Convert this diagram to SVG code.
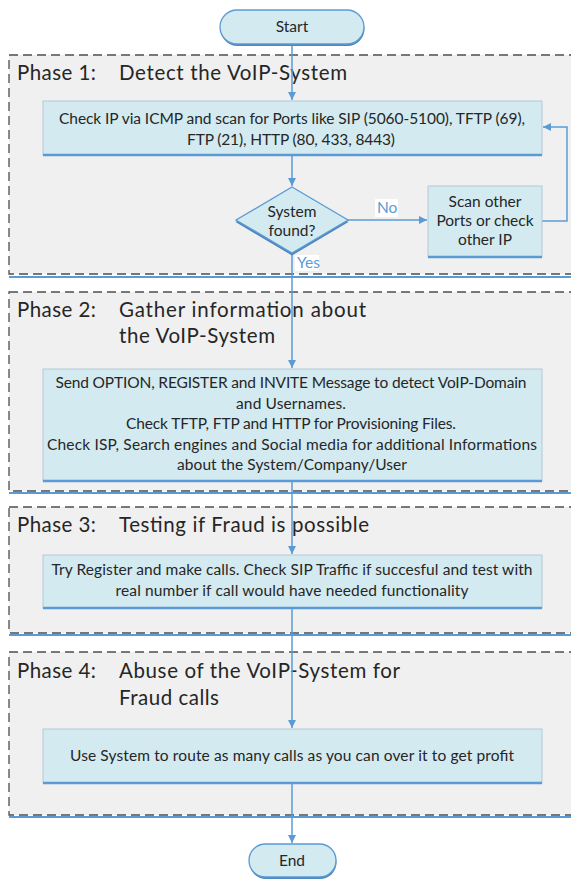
<svg xmlns="http://www.w3.org/2000/svg" width="571" height="880" viewBox="0 0 571 880">
<defs>
<marker id="ah" markerWidth="10" markerHeight="10" refX="8" refY="4" orient="auto" markerUnits="userSpaceOnUse">
<path d="M0,0 L8,4 L0,8 Z" fill="#5b9bd5"/>
</marker>
<style>
.phase{fill:#f0f0f0;stroke:#4d4d4d;stroke-width:1.3;stroke-dasharray:9 5}
.pline{stroke:#5b9bd5;stroke-width:2.2}
.ptxt{font-family:Lato,"Open Sans",sans-serif;font-size:20.5px;fill:#262626}
.box{fill:#d3eaf0;stroke:#b4c9d6;stroke-width:1}
.bline{stroke:#5b9bd5;stroke-width:2.5}
.t{font-family:Lato,"Open Sans",sans-serif;font-size:15.5px;fill:#262626;text-anchor:middle}
.term{fill:#d3eaf0;stroke:#5b9bd5;stroke-width:1.3}
.shadow{fill:#4f86bd}
.conn{fill:none;stroke:#5b9bd5;stroke-width:1.5}
.lbl{font-family:Lato,"Open Sans",sans-serif;font-size:15.5px;fill:#5b9bd5}
</style>
</defs>
<rect width="571" height="880" fill="#ffffff"/>

<g id="phase1">
<rect class="phase" x="9" y="55" width="600" height="219"/>
<line class="pline" x1="9" y1="277" x2="571" y2="277"/>
<text class="ptxt" x="17" y="80" textLength="79">Phase 1:</text>
<text class="ptxt" x="119" y="80" textLength="228">Detect the VoIP-System</text>
</g>
<g id="phase2">
<rect class="phase" x="9" y="292" width="600" height="199"/>
<line class="pline" x1="9" y1="493" x2="571" y2="493"/>
<text class="ptxt" x="17" y="317" textLength="79">Phase 2:</text>
<text class="ptxt" x="119" y="317" textLength="247">Gather information about</text>
<text class="ptxt" x="119" y="343" textLength="156">the VoIP-System</text>
</g>
<g id="phase3">
<rect class="phase" x="9" y="507" width="600" height="126"/>
<line class="pline" x1="9" y1="635" x2="571" y2="635"/>
<text class="ptxt" x="17" y="532" textLength="79">Phase 3:</text>
<text class="ptxt" x="119" y="532" textLength="250">Testing if Fraud is possible</text>
</g>
<g id="phase4">
<rect class="phase" x="9" y="652" width="600" height="163"/>
<line class="pline" x1="9" y1="817" x2="571" y2="817"/>
<text class="ptxt" x="17" y="678" textLength="79">Phase 4:</text>
<text class="ptxt" x="119" y="678" textLength="281">Abuse of the VoIP-System for</text>
<text class="ptxt" x="119" y="705" textLength="100">Fraud calls</text>
</g>

<g id="connectors">
<path class="conn" d="M292,45 V100" marker-end="url(#ah)"/>
<path class="conn" d="M292,155 V186" marker-end="url(#ah)"/>
<path class="conn" d="M348,220 H427" marker-end="url(#ah)"/>
<path class="conn" d="M542,221 H567 V127 H543" marker-end="url(#ah)"/>
<path class="conn" d="M292,253 V368" marker-end="url(#ah)"/>
<path class="conn" d="M292,481 V554" marker-end="url(#ah)"/>
<path class="conn" d="M292,608 V728" marker-end="url(#ah)"/>
<path class="conn" d="M292,783 V843" marker-end="url(#ah)"/>
<rect x="375" y="199" width="23" height="18" fill="#ffffff"/>
<text class="lbl" x="377" y="213">No</text>
<rect x="295" y="255" width="24" height="16" fill="#ffffff"/>
<text class="lbl" x="297" y="268">Yes</text>
</g>

<g id="start">
<rect class="shadow" x="220.5" y="12" width="144" height="34" rx="17"/>
<rect class="term" x="220" y="10" width="144" height="34" rx="17"/>
<text class="t" x="292" y="32">Start</text>
</g>

<g id="box1">
<rect class="box" x="43" y="101" width="499" height="54"/>
<line class="bline" x1="43" y1="155" x2="542" y2="155"/>
<text class="t" x="292" y="124" textLength="466">Check IP via ICMP and scan for Ports like SIP (5060-5100), TFTP (69),</text>
<text class="t" x="291" y="145" textLength="208">FTP (21), HTTP (80, 433, 8443)</text>
</g>

<g id="decision">
<path class="shadow" d="M292,189 L348.5,222 L292,255.5 L235.5,222 Z"/>
<path class="term" d="M292,187 L348,220 L292,253 L236,220 Z"/>
<text class="t" x="292" y="217">System</text>
<text class="t" x="292" y="236">found?</text>
</g>

<g id="scan">
<rect class="box" x="428" y="186" width="114" height="71"/>
<line class="bline" x1="428" y1="257" x2="542" y2="257"/>
<text class="t" x="485" y="207">Scan other</text>
<text class="t" x="485" y="226">Ports or check</text>
<text class="t" x="485" y="245">other IP</text>
</g>

<g id="box2">
<rect class="box" x="43" y="369" width="499" height="112"/>
<line class="bline" x1="43" y1="481" x2="542" y2="481"/>
<text class="t" x="291" y="388" textLength="471">Send OPTION, REGISTER and INVITE Message to detect VoIP-Domain</text>
<text class="t" x="291" y="409" textLength="110">and Usernames.</text>
<text class="t" x="291" y="429" textLength="330">Check TFTP, FTP and HTTP for Provisioning Files.</text>
<text class="t" x="292" y="450" textLength="490">Check ISP, Search engines and Social media  for additional Informations</text>
<text class="t" x="292" y="470" textLength="230">about the System/Company/User</text>
</g>

<g id="box3">
<rect class="box" x="43" y="555" width="499" height="53"/>
<line class="bline" x1="43" y1="608" x2="542" y2="608"/>
<text class="t" x="292" y="575" textLength="481">Try Register and make calls. Check SIP Traffic if succesful and test with</text>
<text class="t" x="292" y="596" textLength="353">real number if call would have needed functionality</text>
</g>

<g id="box4">
<rect class="box" x="43" y="729" width="499" height="54"/>
<line class="bline" x1="43" y1="783" x2="542" y2="783"/>
<text class="t" x="292" y="761" textLength="444">Use System to route as many calls as you can over it to get profit</text>
</g>

<g id="end">
<rect class="shadow" x="249.5" y="846" width="87" height="33" rx="16.5"/>
<rect class="term" x="249" y="844" width="87" height="33" rx="16.5"/>
<text class="t" x="292" y="866">End</text>
</g>
</svg>
